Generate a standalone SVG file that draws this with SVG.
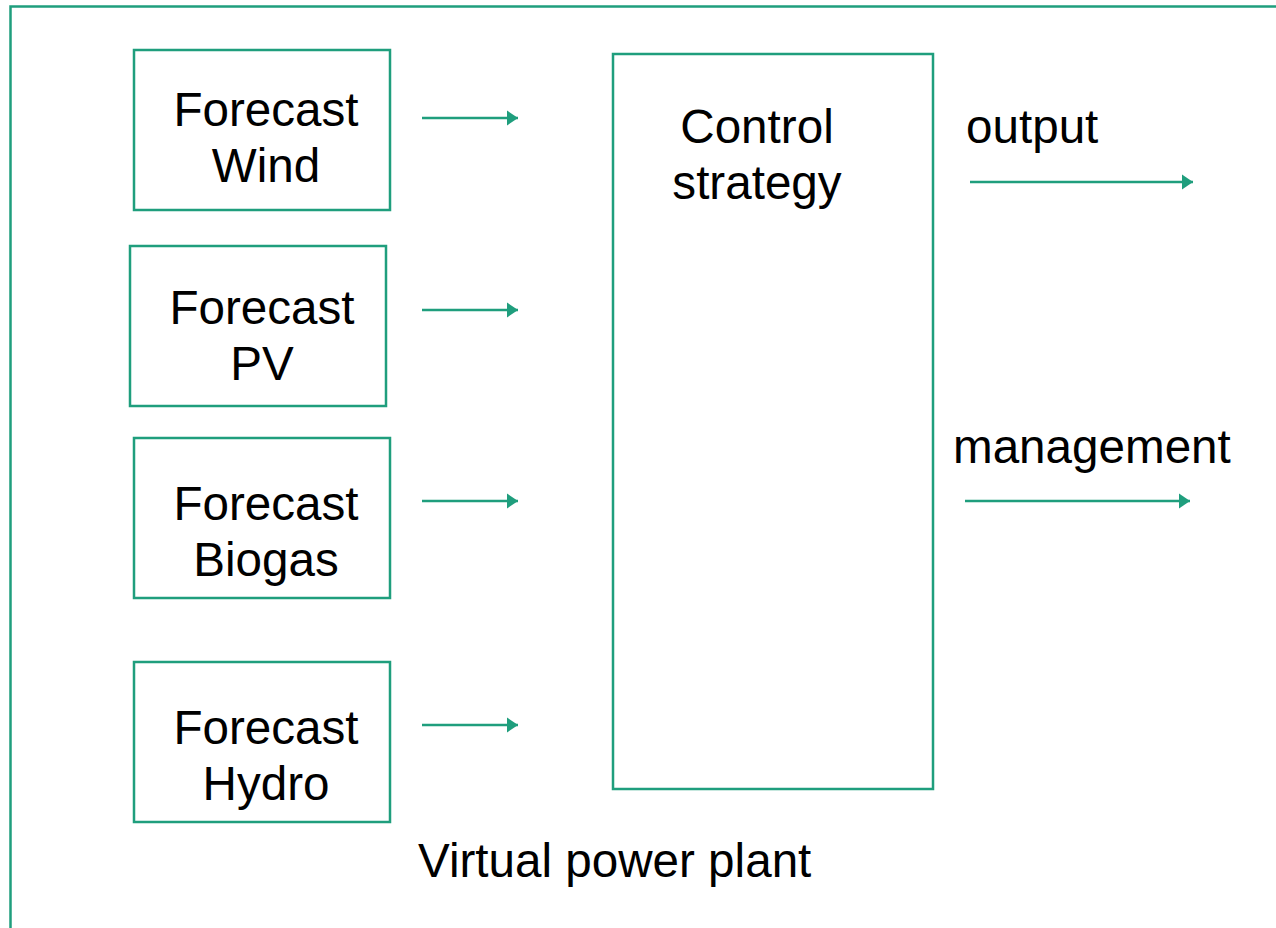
<svg xmlns="http://www.w3.org/2000/svg" width="1276" height="928" viewBox="0 0 1276 928">
<style>
.frame{fill:none;stroke:#1f9e7d;stroke-width:2.5}
.box{fill:#fff;stroke:#1f9e7d;stroke-width:2.5}
.conn{stroke:#1f9e7d;stroke-width:2.5;fill:none}
text{font-family:"Liberation Sans",Arial,sans-serif;font-size:47.6px;fill:#000}
.c{text-anchor:middle}
</style>
<defs>
<marker id="ah" markerUnits="userSpaceOnUse" markerWidth="12" markerHeight="16" viewBox="0 0 12 16" refX="11" refY="8" orient="auto">
<path d="M0,0.5 L11,8 L0,15.5 Z" fill="#1f9e7d"/>
</marker>
</defs>
<rect width="1276" height="928" fill="#fff"/>
<path class="frame" d="M10.5,940 L10.5,6.5 L1290,6.5"/>
<g id="wind"><rect class="box" x="134" y="50" width="256" height="160"/><text class="c" x="266" y="126">Forecast</text><text class="c" x="266" y="182">Wind</text></g>
<g id="pv"><rect class="box" x="130" y="246" width="256" height="160"/><text class="c" x="262" y="324">Forecast</text><text class="c" x="262" y="380">PV</text></g>
<g id="biogas"><rect class="box" x="134" y="438" width="256" height="160"/><text class="c" x="266" y="520">Forecast</text><text class="c" x="266" y="576">Biogas</text></g>
<g id="hydro"><rect class="box" x="134" y="662" width="256" height="160"/><text class="c" x="266" y="744">Forecast</text><text class="c" x="266" y="800">Hydro</text></g>
<g id="control"><rect class="box" x="613" y="54" width="320" height="735"/><text class="c" x="757" y="143">Control</text><text class="c" x="757" y="199">strategy</text></g>
<g id="labels"><text x="966" y="143">output</text><text x="953" y="463">management</text><text x="418" y="877">Virtual power plant</text></g>
<g id="connectors">
<line class="conn" x1="422" y1="118" x2="518" y2="118" marker-end="url(#ah)"/>
<line class="conn" x1="422" y1="310" x2="518" y2="310" marker-end="url(#ah)"/>
<line class="conn" x1="422" y1="501" x2="518" y2="501" marker-end="url(#ah)"/>
<line class="conn" x1="422" y1="725" x2="518" y2="725" marker-end="url(#ah)"/>
<line class="conn" x1="970" y1="182" x2="1193" y2="182" marker-end="url(#ah)"/>
<line class="conn" x1="965" y1="501" x2="1190" y2="501" marker-end="url(#ah)"/>
</g>
</svg>
